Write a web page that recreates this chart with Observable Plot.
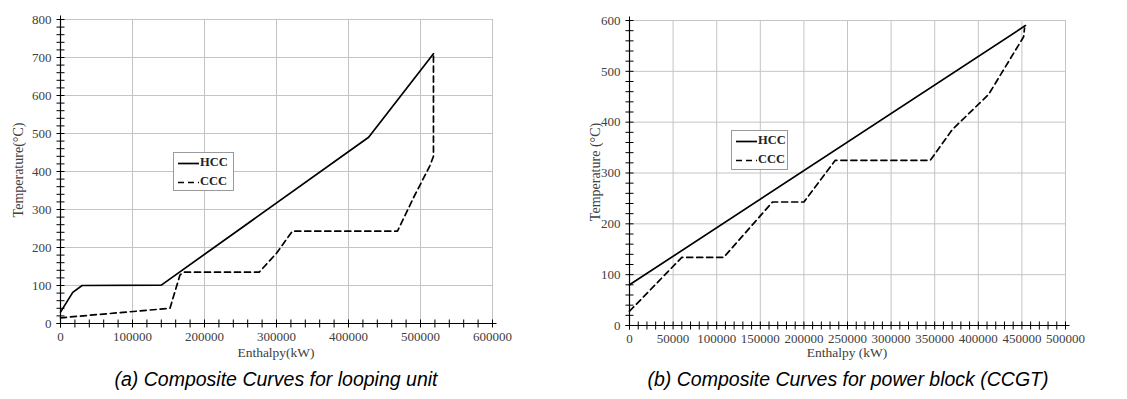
<!DOCTYPE html>
<html><head><meta charset="utf-8">
<script src="https://cdn.jsdelivr.net/npm/d3@7"></script>
<script src="https://cdn.jsdelivr.net/npm/@observablehq/plot@0.6"></script>
<style>
body{margin:0;background:#fff;}
#wrap{position:relative;width:1127px;height:399px;overflow:hidden;font-family:"Liberation Serif","Times New Roman",serif;background:#fff;}
.panel{position:absolute;top:0;}
.ylab{position:absolute;white-space:nowrap;font-size:14px;color:#404040;transform:translate(-50%,-50%) rotate(-90deg);}
.xlab{position:absolute;white-space:nowrap;font-size:13.5px;color:#404040;transform:translate(-50%,-50%);}
.cap{position:absolute;white-space:nowrap;font-family:"Liberation Sans",Arial,sans-serif;font-style:italic;font-size:19.5px;color:#000;transform:translate(-50%,-50%);}
.legend{position:absolute;border:1px solid #9a9a9a;background:#fff;box-sizing:border-box;font-weight:bold;font-size:12.5px;color:#222;}
.legend .row{position:absolute;left:4px;display:flex;align-items:center;gap:1px;}
</style>
</head><body>
<div id="wrap"></div>
<script>
// ---- Data: panel (a) Composite Curves for looping unit ----
const hccA_H = [0, 17000, 30000, 140000, 428000, 518000];
const hccA_T = [30, 82, 100, 101, 490, 710];
const cccA_H = [0, 152000, 166000, 172000, 276000, 300000, 322000, 468000, 490000, 513000, 518000, 518000];
const cccA_T = [15, 40, 128, 135, 135, 185, 243, 243, 330, 415, 440, 710];

// ---- Data: panel (b) Composite Curves for power block (CCGT) ----
const hccB_H = [0, 454000];
const hccB_T = [80, 590];
const cccB_H = [0, 60000, 108000, 164000, 200000, 236000, 345000, 370000, 412000, 452000, 453000];
const cccB_T = [28, 134, 134, 243, 243, 325, 325, 385, 455, 568, 585];

// ---- Tick values ----
const xMajorA = [0, 100000, 200000, 300000, 400000, 500000, 600000];
const yMajorA = [0, 100, 200, 300, 400, 500, 600, 700, 800];
const xMajorB = [0, 50000, 100000, 150000, 200000, 250000, 300000, 350000, 400000, 450000, 500000];
const yMajorB = [0, 100, 200, 300, 400, 500, 600];
const xMinorA = d3.range(0, 600001, 20000);
const yMinorA = d3.range(0, 801, 20);
const xMinorB = d3.range(0, 500001, 10000);
const yMinorB = d3.range(0, 601, 20);

// ---- Text ----
const seriesNames = ["HCC", "CCC"];
const captionA = "(a) Composite Curves for looping unit";
const captionB = "(b) Composite Curves for power block (CCGT)";
const xLabelA = "Enthalpy(kW)", yLabelA = "Temperature(°C)";
const xLabelB = "Enthalpy (kW)", yLabelB = "Temperature (°C)";

const toRows = (H, T) => H.map((h, i) => ({h, t: T[i]}));

function panel(cfg) {
  const fmt = d => String(d);
  const x0 = cfg.xDomain[0], y0 = cfg.yDomain[0];
  return Plot.plot({
    width: cfg.width, height: cfg.height,
    marginLeft: cfg.ml, marginRight: cfg.mr, marginTop: cfg.mt, marginBottom: cfg.mb,
    x: {domain: cfg.xDomain},
    y: {domain: cfg.yDomain},
    style: {fontFamily: "'Liberation Serif','Times New Roman',serif", fontSize: "13px", color: "#404040", background: "white", overflow: "visible"},
    marks: [
      Plot.gridX(cfg.xMajor, {stroke: "#c4c4c4", strokeOpacity: 1}),
      Plot.gridY(cfg.yMajor, {stroke: "#c4c4c4", strokeOpacity: 1}),
      Plot.ruleX([x0], {stroke: "black", strokeWidth: 1.2}),
      Plot.ruleY([y0], {stroke: "black", strokeWidth: 1.2}),
      // crossing minor/major ticks drawn as "+" symbols on the axes
      Plot.dot(cfg.yMinor, {x: () => x0, y: d => d, symbol: "plus", r: 2.7, stroke: "black", strokeWidth: 1}),
      Plot.dot(cfg.xMinor, {x: d => d, y: () => y0, symbol: "plus", r: 2.7, stroke: "black", strokeWidth: 1}),
      Plot.axisY(cfg.yMajor, {tickSize: 0, tickPadding: 9, tickFormat: fmt, fill: "#404040", label: null}),
      Plot.axisX(cfg.xMajor, {tickSize: 0, tickPadding: 8, tickFormat: fmt, fill: "#404040", label: null}),
      Plot.line(cfg.hcc, {x: "h", y: "t", stroke: "black", strokeWidth: 1.7}),
      Plot.line(cfg.ccc, {x: "h", y: "t", stroke: "black", strokeWidth: 1.7, strokeDasharray: "6,4"})
    ]
  });
}

const wrap = document.getElementById("wrap");

const pa = panel({
  width: 560, height: 360, ml: 60, mr: 68, mt: 19, mb: 37,
  xDomain: [0, 600000], yDomain: [0, 800],
  xMajor: xMajorA, yMajor: yMajorA, xMinor: xMinorA, yMinor: yMinorA,
  hcc: toRows(hccA_H, hccA_T), ccc: toRows(cccA_H, cccA_T)
});
pa.classList.add("panel"); pa.style.left = "0px";
wrap.appendChild(pa);

const pb = panel({
  width: 564, height: 360, ml: 66, mr: 62, mt: 20, mb: 35,
  xDomain: [0, 500000], yDomain: [0, 600],
  xMajor: xMajorB, yMajor: yMajorB, xMinor: xMinorB, yMinor: yMinorB,
  hcc: toRows(hccB_H, hccB_T), ccc: toRows(cccB_H, cccB_T)
});
pb.classList.add("panel"); pb.style.left = "563px";
wrap.appendChild(pb);

function addText(cls, text, x, y) {
  const d = document.createElement("div");
  d.className = cls; d.textContent = text;
  d.style.left = x + "px"; d.style.top = y + "px";
  wrap.appendChild(d);
}
addText("ylab", yLabelA, 19, 170);
addText("xlab", xLabelA, 276, 353);
addText("cap", captionA, 276, 379);
addText("ylab", yLabelB, 596, 172);
addText("xlab", xLabelB, 847, 353);
addText("cap", captionB, 848, 379);

function addLegend(x, y, w, h) {
  const L = document.createElement("div");
  L.className = "legend";
  Object.assign(L.style, {left: x + "px", top: y + "px", width: w + "px", height: h + "px"});
  seriesNames.forEach((name, i) => {
    const r = document.createElement("div");
    r.className = "row";
    r.style.top = (i === 0 ? 2 : 21) + "px";
    const dash = i === 0 ? "" : 'stroke-dasharray="6,4"';
    r.innerHTML = `<svg width="21" height="14"><line x1="0" x2="21" y1="7.5" y2="7.5" stroke="black" stroke-width="1.7" ${dash}/></svg><span>${name}</span>`;
    L.appendChild(r);
  });
  wrap.appendChild(L);
}
addLegend(173, 152, 61, 39);
addLegend(731, 130, 57, 40);
</script>
</body></html>
